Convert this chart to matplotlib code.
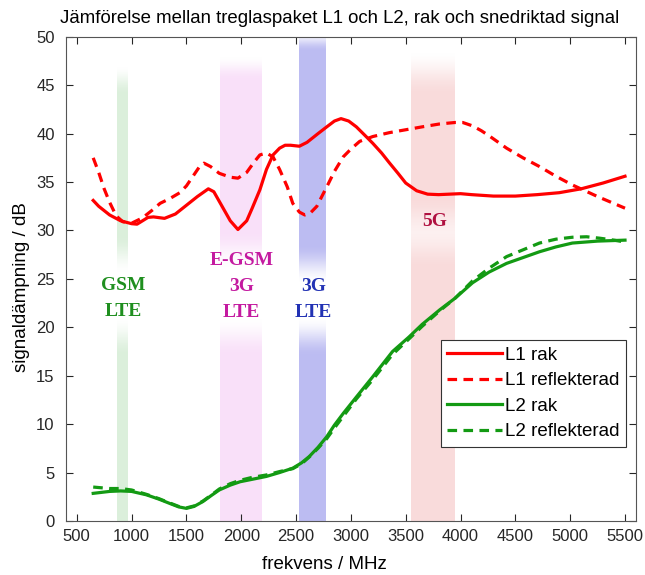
import numpy as np
import matplotlib.pyplot as plt

# frequency bands (MHz) and their labels
band_lo = [870, 1805, 2530, 3550]
band_hi = [970, 2185, 2770, 3950]
band_rgb = [(0.86, 0.94, 0.86), (0.98, 0.88, 0.98), (0.74, 0.74, 0.95), (0.98, 0.86, 0.86)]
band_text = ["GSM\nLTE", "E-GSM\n3G\nLTE", "3G\nLTE", "5G"]
band_text_xy = [(920, 22.95), (2000, 24.2), (2660, 22.9), (3765, 30.9)]
band_text_color = ["#1f8f1f", "#c41aa0", "#2232b4", "#b01040"]

# L1 rak
f_l1r = [650, 700, 800, 900, 1000, 1050, 1100, 1150, 1200, 1300, 1400, 1500, 1600, 1700, 1750,
         1800, 1900, 1970, 2050, 2100, 2170, 2230, 2290, 2350, 2400, 2450, 2530, 2600, 2700, 2780,
         2850, 2910, 2980, 3050, 3130, 3200, 3280, 3350, 3430, 3500, 3600, 3700, 3800, 3900, 4000,
         4100, 4300, 4500, 4700, 4900, 5100, 5300, 5500]
l1_rak = [33.1, 32.5, 31.6, 31.0, 30.7, 30.65, 31.0, 31.35, 31.4, 31.25, 31.7, 32.6, 33.5, 34.3, 34.0,
          33.0, 31.0, 30.1, 31.0, 32.3, 34.2, 36.3, 37.8, 38.5, 38.8, 38.8, 38.7, 39.1, 40.0, 40.7,
          41.3, 41.55, 41.3, 40.7, 39.8, 39.0, 38.0, 37.0, 35.9, 34.9, 34.1, 33.75, 33.7, 33.75, 33.8,
          33.7, 33.55, 33.55, 33.7, 33.9, 34.3, 34.9, 35.6]

# L1 reflekterad
f_l1f = [650, 700, 750, 800, 860, 920, 1000, 1100, 1200, 1260, 1350, 1440, 1500, 1560, 1620, 1660,
         1720, 1800, 1900, 1970, 2050, 2120, 2170, 2230, 2290, 2350, 2420, 2470, 2530, 2580, 2630,
         2690, 2730, 2780, 2850, 2930, 3000, 3080, 3200, 3350, 3500, 3650, 3810, 3950, 4020, 4110,
         4190, 4270, 4420, 4570, 4720, 4870, 5020, 5250, 5500]
l1_refl = [37.5, 36.0, 34.3, 32.9, 31.5, 30.9, 30.75, 31.3, 32.2, 32.8, 33.3, 33.9, 34.6, 35.6, 36.6, 36.95,
           36.6, 35.9, 35.5, 35.4, 36.0, 37.1, 37.8, 38.0, 37.6, 36.3, 34.5, 32.8, 31.9, 31.6, 31.8,
           32.5, 33.4, 34.5, 36.1, 37.6, 38.4, 39.2, 39.7, 40.1, 40.4, 40.7, 41.0, 41.15, 41.15, 40.8,
           40.3, 39.7, 38.5, 37.5, 36.6, 35.6, 34.7, 33.5, 32.3]

# L2 rak
f_l2r = [650, 800, 900, 1000, 1135, 1250, 1350, 1430, 1500, 1570, 1650, 1730, 1800, 1900, 1990, 2100,
         2230, 2350, 2470, 2550, 2620, 2700, 2780, 2850, 2930, 3050, 3200, 3380, 3530, 3650, 3810,
         3950, 4110, 4260, 4420, 4570, 4720, 4870, 5020, 5250, 5500]
l2_rak = [2.85, 3.05, 3.1, 3.05, 2.7, 2.25, 1.8, 1.45, 1.3, 1.5, 2.0, 2.65, 3.2, 3.7, 4.05, 4.3,
          4.6, 5.0, 5.45, 6.0, 6.65, 7.6, 8.7, 9.9, 11.1, 12.8, 14.9, 17.5, 19.0, 20.3, 21.8,
          23.0, 24.6, 25.7, 26.6, 27.2, 27.8, 28.3, 28.7, 28.9, 29.0]

# L2 reflekterad
f_l2f = [650, 800, 900, 1000, 1135, 1250, 1350, 1430, 1500, 1570, 1650, 1730, 1800, 1900, 1990, 2100,
         2230, 2350, 2470, 2550, 2620, 2700, 2780, 2850, 2930, 3050, 3200, 3380, 3530, 3650, 3810,
         3950, 4110, 4260, 4420, 4570, 4720, 4870, 5020, 5150, 5270, 5400, 5500]
l2_refl = [3.5, 3.35, 3.35, 3.2, 2.75, 2.3, 1.85, 1.5, 1.35, 1.55, 2.05, 2.7, 3.3, 3.85, 4.2, 4.5,
           4.75, 5.1, 5.4, 5.9, 6.6, 7.5, 8.5, 9.6, 10.8, 12.6, 14.6, 17.2, 18.8, 20.1, 21.7,
           23.0, 24.8, 26.1, 27.3, 28.0, 28.7, 29.1, 29.3, 29.35, 29.2, 29.0, 28.8]

# how each band fades: (top start, top full, gap top, gap bottom, gap depth) in dB
band_fade = [(47.0, 44.0, 27.5, 19.0, 1.0), (48.0, 45.5, 28.0, 19.0, 1.0),
             (50.5, 48.5, 26.5, 19.0, 1.0), (48.5, 44.0, 31.5, 28.0, 0.6)]


def smooth(t):
    t = np.clip(t, 0, 1)
    return t * t * (3 - 2 * t)


def band_image(rgb, fade):
    y = np.linspace(50, 0, 500)
    top0, top1, g0, g1, depth = fade
    a = smooth((top0 - y) / (top0 - top1))
    mid = (g0 + g1) / 2
    half = (g0 - g1) / 2
    gap = smooth((np.abs(y - mid) - half + 2.0) / 4.0)
    a = a * (1 - depth * (1 - gap))
    img = np.zeros((len(y), 2, 4))
    img[:, :, 0], img[:, :, 1], img[:, :, 2] = rgb
    img[:, :, 3] = a[:, None]
    return img


plt.rcParams['font.family'] = ['Liberation Sans', 'DejaVu Sans']
fig, ax = plt.subplots(figsize=(6.45, 5.75), dpi=100)
fig.subplots_adjust(left=0.102, right=0.986, top=0.936, bottom=0.094)

for lo, hi, rgb, fd in zip(band_lo, band_hi, band_rgb, band_fade):
    ax.imshow(band_image(rgb, fd), extent=(lo, hi, 0, 50), aspect='auto', zorder=1, interpolation='bilinear')

for txt, (tx, ty), c in zip(band_text, band_text_xy, band_text_color):
    ax.text(tx, ty, txt, ha='center', va='center', color=c, fontsize=14, fontweight='bold',
            family='Liberation Serif', linespacing=1.72, zorder=3)

red = '#ff0000'
green = '#139a13'
dash = (0, (3.0, 2.0))
ax.plot(f_l1r, l1_rak, color=red, lw=2.3, label='L1 rak', zorder=4)
ax.plot(f_l1f, l1_refl, color=red, lw=2.3, ls=dash, label='L1 reflekterad', zorder=4)
ax.plot(f_l2r, l2_rak, color=green, lw=2.3, label='L2 rak', zorder=4)
ax.plot(f_l2f, l2_refl, color=green, lw=2.3, ls=dash, label='L2 reflekterad', zorder=4)

ax.set_xlim(400, 5600)
ax.set_ylim(0, 50)
ax.set_xticks(np.arange(500, 5501, 500))
ax.set_yticks(np.arange(0, 51, 5))
ax.tick_params(direction='in', top=True, right=True, length=5, labelsize=12, colors='#262626')
ax.tick_params(axis='x', pad=6)
ax.tick_params(axis='y', pad=8)
for s in ax.spines.values():
    s.set_color('#555555')
    s.set_linewidth(0.8)

fig.text(0.527, 0.968, 'Jämförelse mellan treglaspaket L1 och L2, rak och snedriktad signal',
         ha='center', va='center', fontsize=13.4)
fig.text(0.503, 0.019, 'frekvens / MHz', ha='center', va='center', fontsize=13.5)
fig.text(0.033, 0.5, 'signaldämpning / dB', ha='center', va='center', rotation=90, fontsize=13.5)

leg = ax.legend(loc='lower right', bbox_to_anchor=(0.982, 0.153), fontsize=13.5, handlelength=2.9,
                handletextpad=0.15, borderpad=0.35, labelspacing=0.45, borderaxespad=0,
                fancybox=False, framealpha=1, edgecolor='#333333')
leg.get_frame().set_linewidth(0.8)

plt.savefig('out.png', dpi=100)
